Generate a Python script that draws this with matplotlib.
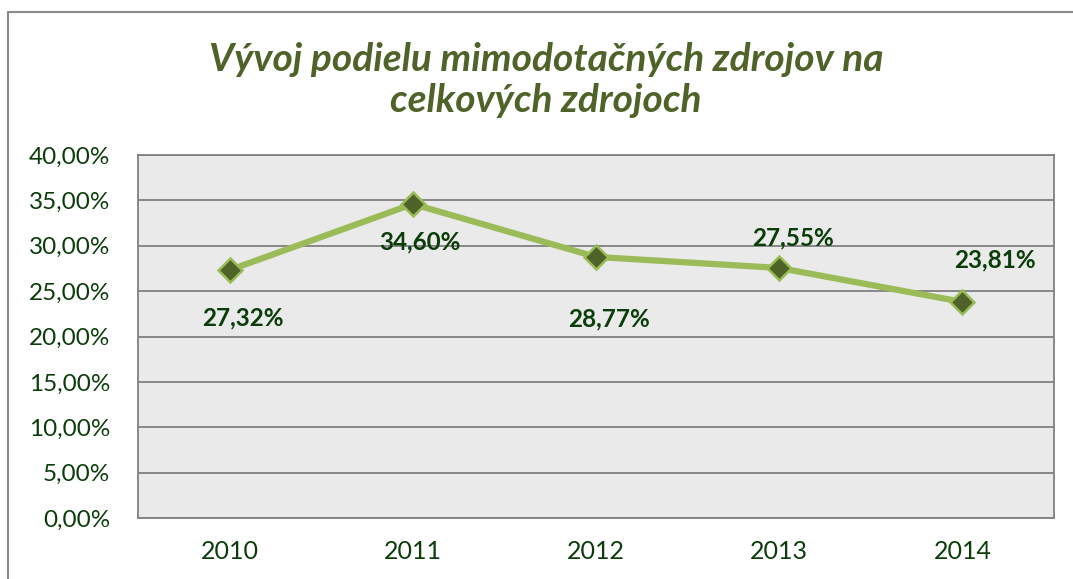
import matplotlib
matplotlib.use("Agg")
import matplotlib.pyplot as plt
from matplotlib.patches import Rectangle
from matplotlib.ticker import FuncFormatter

# data
years = ["2010", "2011", "2012", "2013", "2014"]
share = [27.32, 34.60, 28.77, 27.55, 23.81]
label_text = ["27,32%", "34,60%", "28,77%", "27,55%", "23,81%"]

# label offsets in pixels (dx, dy) relative to the marker
label_offsets = [(13, -48), (7, -38), (13, -62), (14, 30), (33, 42)]

title_color = "#4F6228"
text_color = "#0B3D0B"
line_color = "#9BBB59"
marker_color = "#4F6228"

plt.rcParams["font.family"] = ["Lato", "DejaVu Sans"]

fig = plt.figure(figsize=(10.73, 5.79), dpi=100)
fig.patch.set_facecolor("white")

# outer chart frame
fig.patches.append(Rectangle((8 / 1073, -0.05), 1.2, 1 - 12 / 579 + 0.05,
                             transform=fig.transFigure, fill=False,
                             edgecolor="#8C8C8C", linewidth=1.5))

ax = fig.add_axes([138 / 1073, 1 - 518 / 579, (1054 - 138) / 1073, (518 - 155) / 579])
ax.set_facecolor("#EAEAEA")

x = list(range(len(years)))
ax.plot(x, share, color=line_color, linewidth=4.5, zorder=3,
        marker="D", markersize=12.5, markerfacecolor=marker_color,
        markeredgecolor=line_color, markeredgewidth=1.8)

for xi, yi, txt, (dx, dy) in zip(x, share, label_text, label_offsets):
    ax.annotate(txt, (xi, yi), xytext=(dx * 0.72, dy * 0.72), textcoords="offset points",
                ha="center", va="center", fontsize=17.5, fontweight="bold",
                color=text_color, zorder=4)

ax.set_xlim(-0.5, len(years) - 0.5)
ax.set_ylim(0, 40)
ax.set_yticks(range(0, 41, 5))
ax.yaxis.set_major_formatter(FuncFormatter(lambda v, p: f"{v:.2f}%".replace(".", ",")))
ax.set_xticks(x)
ax.set_xticklabels(years)

ax.grid(axis="y", color="#808080", linewidth=1.3, zorder=1)
ax.set_axisbelow(True)
for side in ["left", "right", "top", "bottom"]:
    ax.spines[side].set_color("#808080")
    ax.spines[side].set_linewidth(1.3)

ax.tick_params(axis="y", length=0, pad=20, labelsize=17.5, labelcolor=text_color)
ax.tick_params(axis="x", length=0, pad=16, labelsize=18, labelcolor=text_color)

fig.text(546 / 1073, 1 - 80 / 579, "Vývoj podielu mimodotačných zdrojov na\ncelkových zdrojoch",
         ha="center", va="center", fontsize=28, fontweight="bold", fontstyle="italic",
         color=title_color, linespacing=1.2)

fig.savefig("out.png", dpi=100, facecolor="white")
